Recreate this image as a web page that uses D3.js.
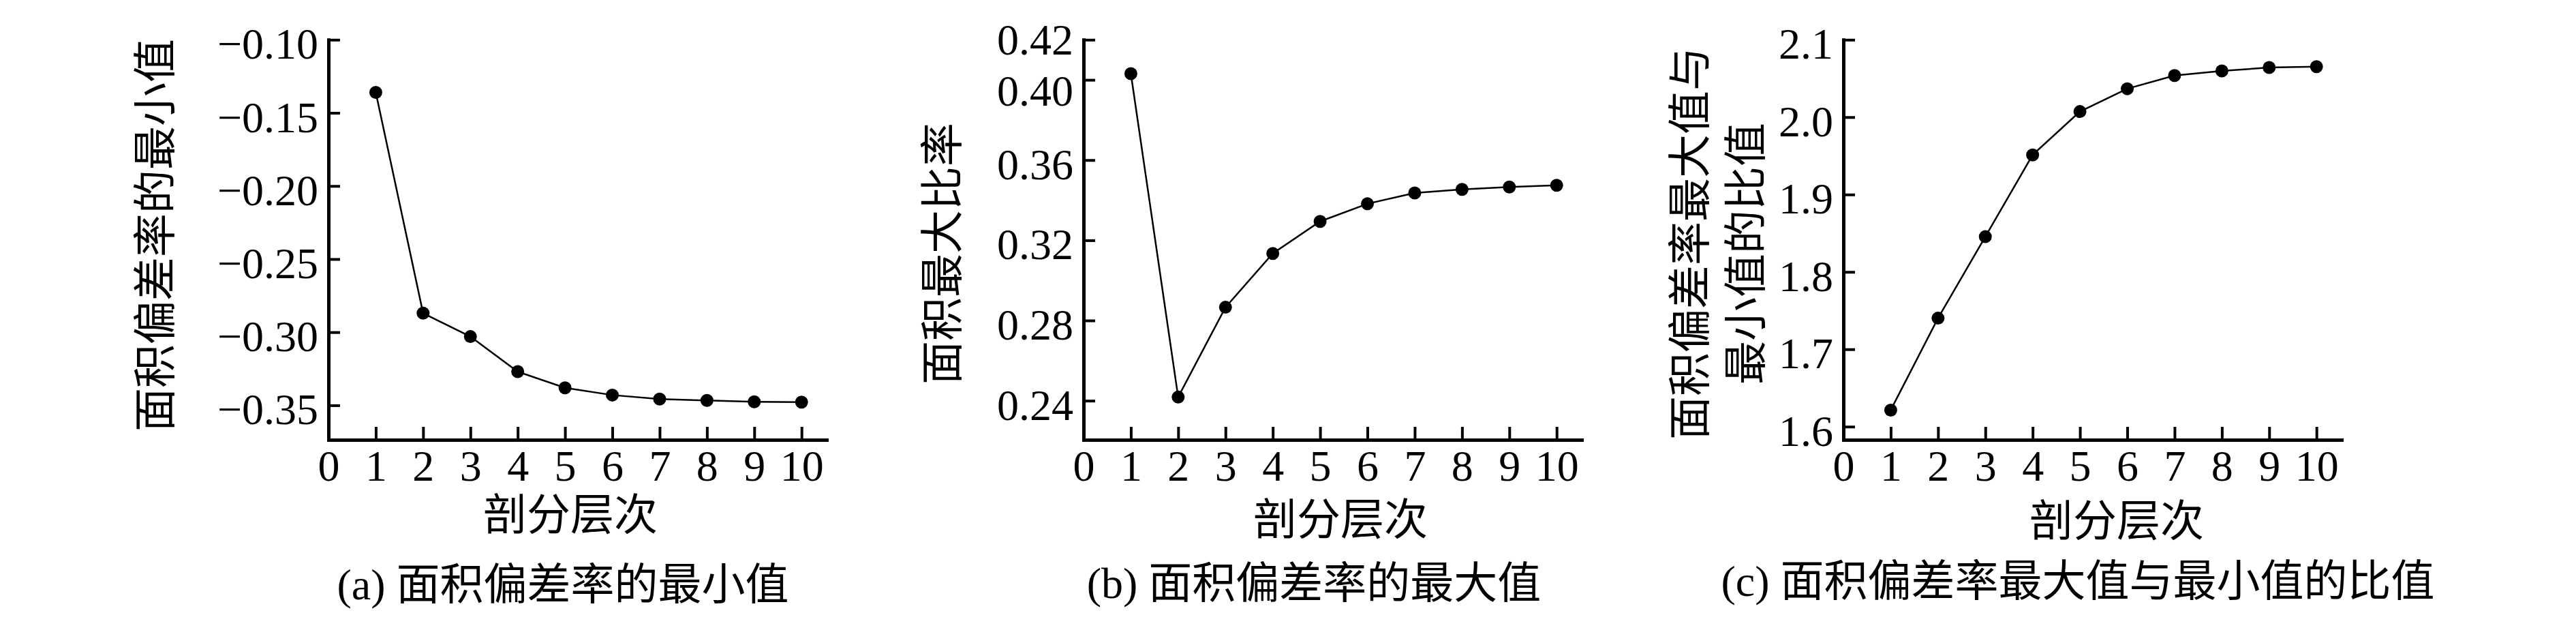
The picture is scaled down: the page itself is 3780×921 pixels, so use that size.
<!DOCTYPE html>
<html>
<head>
<meta charset="utf-8">
<script src="https://cdn.jsdelivr.net/npm/d3@7"></script>
<style>
  body { margin: 0; background: #fff; }
</style>
</head>
<body>
<svg id="canvas_panels"></svg>
<script>
// 剖分层次 1..10
const levels = [1, 2, 3, 4, 5, 6, 7, 8, 9, 10]
const xTicks = [0, 1, 2, 3, 4, 5, 6, 7, 8, 9, 10]

// (a) 面积偏差率的最小值
const minRate = [-0.136, -0.287, -0.303, -0.327, -0.338, -0.343, -0.3457, -0.3467, -0.3476, -0.3478]
const yTicksA = [-0.35, -0.30, -0.25, -0.20, -0.15, -0.10]

// (b) 面积偏差率的最大值
const maxRate = [0.4031, 0.2418, 0.2866, 0.3134, 0.3294, 0.3382, 0.3436, 0.3454, 0.3466, 0.3474]
const yTicksB = [0.24, 0.28, 0.32, 0.36, 0.40, 0.42]

// (c) 最大值与最小值的比值
const ratio = [1.6214, 1.7402, 1.8455, 1.9512, 2.0072, 2.0367, 2.0538, 2.0597, 2.0641, 2.0652]
const yTicksC = [1.6, 1.7, 1.8, 1.9, 2.0, 2.1]

const xTitle = '剖分层次'

let svg = d3.select('#canvas_panels')
            .attr('width', 3780)
            .attr('height', 921)

const numFont = "'Liberation Serif', 'Times New Roman', serif"
const cjkFont = "'Liberation Serif', 'Noto Sans CJK SC', serif"

const plotTop = 58.3, plotBase = 645, xWidth = 731

let panels = [
    {values: minRate, yTicks: yTicksA, fmt: '.2f', yDomain: [-0.3736, -0.10], x0: 482,
     yTitle: [{text: '面积偏差率的最小值', x: 228, y: 345}],
     xTitleX: 837, xTitleY: 777,
     caption: '(a) 面积偏差率的最小值', capX: 826, capY: 879},
    {values: maxRate, yTicks: yTicksB, fmt: '.2f', yDomain: [0.2205, 0.42], x0: 1590,
     labelShift: {'0.42': -6, '0.40': 10},
     yTitle: [{text: '面积最大比率', x: 1383, y: 372}],
     xTitleX: 1967, xTitleY: 784,
     caption: '(b) 面积偏差率的最大值', capX: 1928, capY: 877},
    {values: ratio, yTicks: yTicksC, fmt: '.1f', yDomain: [1.583, 2.1], x0: 2705,
     yTitle: [{text: '面积偏差率最大值与', x: 2480, y: 357}, {text: '最小值的比值', x: 2562, y: 372}],
     xTitleX: 3106, xTitleY: 786,
     caption: '(c) 面积偏差率最大值与最小值的比值', capX: 3049, capY: 874}
]

let drawPanel = (p) => {
    let x = d3.scaleLinear()
              .domain([0, 10.53])
              .range([p.x0, p.x0 + xWidth])
    let y = d3.scaleLinear()
              .domain(p.yDomain)
              .range([plotBase, plotTop])

    let g = svg.append('g')

    // axes
    let yAxis = g.append('g')
                 .attr('transform', 'translate(' + p.x0 + ',0)')
                 .call(d3.axisLeft(y)
                         .tickValues(p.yTicks)
                         .tickFormat(d3.format(p.fmt))
                         .tickSizeInner(-17)
                         .tickSizeOuter(0)
                         .tickPadding(15))
    let xAxis = g.append('g')
                 .attr('transform', 'translate(0,' + plotBase + ')')
                 .call(d3.axisBottom(x)
                         .tickValues(xTicks)
                         .tickFormat(d3.format('d'))
                         .tickSizeInner(-19)
                         .tickSizeOuter(0)
                         .tickPadding(15))

    ;[yAxis, xAxis].forEach((a) => {
        a.attr('font-size', 64).attr('font-family', numFont)
        a.select('.domain').attr('stroke-width', 5).attr('stroke-linecap', 'square')
        a.selectAll('.tick line').attr('stroke-width', 4)
        a.selectAll('.tick text').attr('fill', '#000')
    })
    let fmt = d3.format(p.fmt)
    yAxis.selectAll('.tick text')
         .attr('dy', '0.43em')
         .attr('y', (d) => (p.labelShift && p.labelShift[fmt(d)]) || 0)

    // series
    let pts = levels.map((l, i) => ({level: l, value: p.values[i]}))
    g.append('path')
     .datum(pts)
     .attr('fill', 'none')
     .attr('stroke', '#000')
     .attr('stroke-width', 2.5)
     .attr('d', d3.line().x((d) => x(d.level)).y((d) => y(d.value)))
    g.selectAll('circle')
     .data(pts)
     .enter()
     .append('circle')
     .attr('cx', (d) => x(d.level))
     .attr('cy', (d) => y(d.value))
     .attr('r', 9.5)
     .attr('fill', '#000')

    // titles
    p.yTitle.forEach((t) => {
        g.append('text')
         .attr('transform', 'translate(' + t.x + ',' + t.y + ') rotate(-90)')
         .attr('text-anchor', 'middle')
         .attr('dominant-baseline', 'central')
         .attr('font-family', cjkFont)
         .attr('font-size', 64)
         .text(t.text)
    })
    g.append('text')
     .attr('x', p.xTitleX)
     .attr('y', p.xTitleY)
     .attr('text-anchor', 'middle')
     .attr('font-family', cjkFont)
     .attr('font-size', 64)
     .text(xTitle)
    g.append('text')
     .attr('x', p.capX)
     .attr('y', p.capY)
     .attr('text-anchor', 'middle')
     .attr('font-family', cjkFont)
     .attr('font-size', 64)
     .text(p.caption)
}

svg.append('rect').attr('width', 3780).attr('height', 921).attr('fill', '#fff')
panels.forEach(drawPanel)
</script>
</body>
</html>
